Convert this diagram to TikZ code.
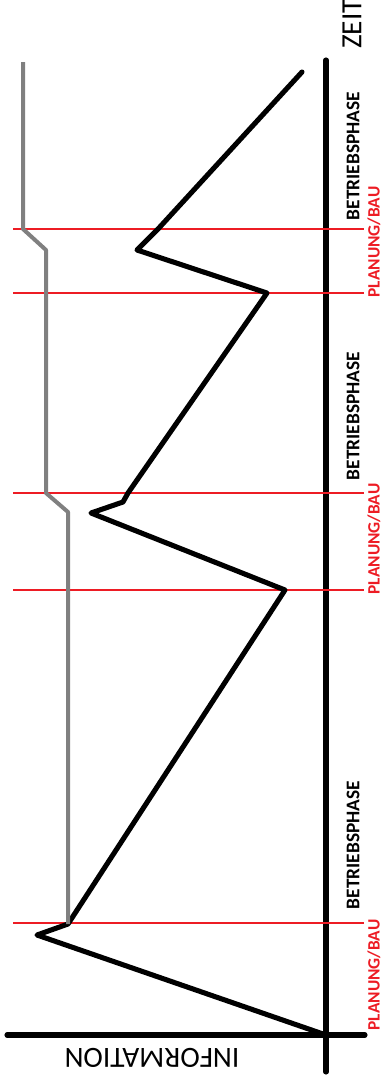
\documentclass[tikz,border=0pt]{standalone}
\usepackage{fontspec}
\setmainfont{Carlito}
\definecolor{paintred}{RGB}{237,28,36}
\definecolor{paintgray}{RGB}{128,128,128}
\begin{document}
\begin{tikzpicture}[
    x=0.75pt, y=-0.75pt, % pixel grid, y downwards
    axis/.style={line width=3.8pt, line cap=round},
    cut/.style={paintred, line width=1.8pt},
    phase/.style={rotate=90, font=\bfseries\fontsize{14.5}{15}\selectfont, inner sep=0pt},
    build/.style={rotate=90, font=\bfseries\fontsize{13}{14}\selectfont, text=paintred, inner sep=0pt},
    curve/.style={line width=3.8pt, line join=round, line cap=round},
    stock/.style={paintgray, line width=3pt, line join=round}
]
    \useasboundingbox (0,0) rectangle (383,1079);

    % Achsen
    \coordinate (O) at (326,1035);
    \coordinate (ttop) at (326,60);
    \coordinate (tbot) at (326,1072);
    \coordinate (ileft) at (7,1035);
    \coordinate (iright) at (365,1035);
    \draw[axis] (tbot) -- (ttop);
    \draw[axis] (ileft) -- (iright);
    \node[rotate=90, font=\fontsize{22}{24}\selectfont, inner sep=0pt] (zeit) at (352,24) {ZEIT};
    \node[rotate=180, font=\fontsize{22}{24}\selectfont, inner sep=0pt] (info) at (152,1058) {INFORMATION};

    % Phasengrenzen (rot)
    \foreach \y/\w [count=\i] in {229/2.2, 293/1.6, 493/1.8, 590/1.8, 923/1.8} {
        \coordinate (cl\i) at (13,\y);
        \coordinate (cr\i) at (364,\y);
        \draw[cut, line width=\w pt] (cl\i) -- (cr\i);
    }

    % Beschriftung der Phasen
    \foreach \y [count=\i] in {156, 416, 845}
        \node[phase] (betrieb\i) at (353,\y) {BETRIEBSPHASE};
    \foreach \y [count=\i] in {242, 539, 975}
        \node[build] (bau\i) at (374,\y) {PLANUNG/BAU};

    % Informationsverlauf (schwarz)
    \draw[curve] (302,72) -- (158,229) -- (137,250) -- (267,293)
        -- (128,493) -- (123,502) -- (91,513) -- (285,590)
        -- (68,924) -- (37,935) -- (O);

    % Grundbestand (grau)
    \draw[stock] (23,62) -- (23,229) -- (46,250) -- (46,493)
        -- (68,512) -- (68,924);
\end{tikzpicture}
\end{document}
